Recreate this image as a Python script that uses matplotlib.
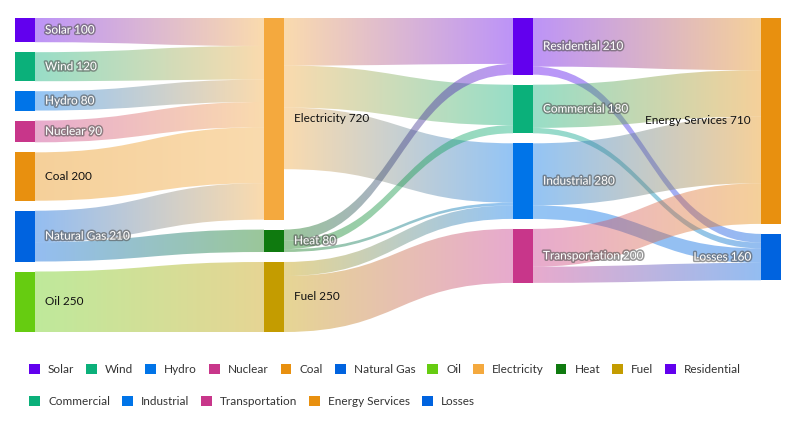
import numpy as np
import matplotlib.pyplot as plt
import matplotlib.patheffects as pe
from matplotlib.path import Path
from matplotlib.patches import PathPatch, Rectangle, Patch
from matplotlib.colors import to_rgb

# nodes of the energy flow
nodes = ["Solar", "Wind", "Hydro", "Nuclear", "Coal", "Natural Gas", "Oil",
         "Electricity", "Heat", "Fuel",
         "Residential", "Commercial", "Industrial", "Transportation",
         "Energy Services", "Losses"]
node_column = [0, 0, 0, 0, 0, 0, 0, 1, 1, 1, 2, 2, 2, 2, 3, 3]
node_colors = ["#6200EE", "#0BB07A", "#0074E8", "#C8368A", "#E8900F", "#0063DF",
               "#66CC11", "#F4A93E", "#0F7A0F", "#C49C00", "#6200EE", "#0BB07A",
               "#0074E8", "#C8368A", "#E8900F", "#0063DF"]

# links (source, target, value)
link_source = ["Solar", "Wind", "Hydro", "Nuclear", "Coal", "Natural Gas", "Natural Gas", "Oil",
               "Electricity", "Electricity", "Electricity", "Heat", "Heat", "Heat", "Fuel", "Fuel",
               "Residential", "Residential", "Commercial", "Commercial",
               "Industrial", "Industrial", "Transportation", "Transportation"]
link_target = ["Electricity", "Electricity", "Electricity", "Electricity", "Electricity", "Electricity",
               "Heat", "Fuel",
               "Residential", "Commercial", "Industrial", "Residential", "Commercial", "Industrial",
               "Industrial", "Transportation",
               "Energy Services", "Losses", "Energy Services", "Losses",
               "Energy Services", "Losses", "Energy Services", "Losses"]
link_value = [100, 120, 80, 90, 200, 130, 80, 250,
              170, 150, 220, 40, 30, 10, 50, 200,
              180, 30, 160, 20, 230, 50, 140, 60]

# layout (pixels)
col_x = [15, 264, 513, 761]
col_scale = [0.2419, 0.28, 0.27, 0.29]
node_w = 20
gap = 10
top = 18
link_alpha = 0.42

plt.rcParams['font.family'] = ['Lato', 'DejaVu Sans']

fig = plt.figure(figsize=(7.99, 4.29), dpi=100)
ax = fig.add_axes([0, 0, 1, 1])
ax.set_xlim(0, 799)
ax.set_ylim(429, 0)
ax.axis("off")

idx = {n: i for i, n in enumerate(nodes)}
inflow = [0] * len(nodes)
outflow = [0] * len(nodes)
for s, t, v in zip(link_source, link_target, link_value):
    outflow[idx[s]] += v
    inflow[idx[t]] += v
node_value = [max(a, b) for a, b in zip(inflow, outflow)]

# node positions
node_y, node_h = [], []
col_y = {}
for i, n in enumerate(nodes):
    c = node_column[i]
    y = col_y.get(c, top)
    h = node_value[i] * col_scale[c]
    node_y.append(y)
    node_h.append(h)
    col_y[c] = y + h + gap

# links
src_off = list(node_y)
tgt_off = list(node_y)
order = sorted(range(len(link_value)),
               key=lambda k: (idx[link_source[k]], idx[link_target[k]]))
link_geo = {}
for k in order:
    s, t = idx[link_source[k]], idx[link_target[k]]
    ws = link_value[k] * col_scale[node_column[s]]
    link_geo[k] = [src_off[s], src_off[s] + ws]
    src_off[s] += ws
order_t = sorted(range(len(link_value)),
                 key=lambda k: (idx[link_target[k]], idx[link_source[k]]))
for k in order_t:
    s, t = idx[link_source[k]], idx[link_target[k]]
    wt = link_value[k] * col_scale[node_column[t]]
    link_geo[k] += [tgt_off[t], tgt_off[t] + wt]
    tgt_off[t] += wt

for k in range(len(link_value)):
    s, t = idx[link_source[k]], idx[link_target[k]]
    x0 = col_x[node_column[s]] + node_w
    x1 = col_x[node_column[t]]
    xm = (x0 + x1) / 2
    ys0, ys1, yt0, yt1 = link_geo[k]
    verts = [(x0, ys0), (xm, ys0), (xm, yt0), (x1, yt0),
             (x1, yt1), (xm, yt1), (xm, ys1), (x0, ys1), (x0, ys0)]
    codes = [Path.MOVETO, Path.CURVE4, Path.CURVE4, Path.CURVE4,
             Path.LINETO, Path.CURVE4, Path.CURVE4, Path.CURVE4, Path.CLOSEPOLY]
    patch = PathPatch(Path(verts, codes), facecolor="none", edgecolor="none")
    ax.add_patch(patch)
    c0 = np.array(to_rgb(node_colors[s]))
    c1 = np.array(to_rgb(node_colors[t]))
    f = np.linspace(0, 1, 128)[:, None]
    grad = np.ones((1, 128, 4))
    grad[0, :, :3] = c0 * (1 - f) + c1 * f
    grad[0, :, 3] = link_alpha
    im = ax.imshow(grad, extent=(x0, x1, 429, 0), aspect="auto",
                   interpolation="bilinear", zorder=1)
    im.set_clip_path(patch)

ax.set_xlim(0, 799)
ax.set_ylim(429, 0)

# nodes and labels
for i, n in enumerate(nodes):
    c = node_column[i]
    ax.add_patch(Rectangle((col_x[c], node_y[i]), node_w, node_h[i],
                           facecolor=node_colors[i], edgecolor="none", zorder=3))
    r, g, b = to_rgb(node_colors[i])
    light = 0.299 * r + 0.587 * g + 0.114 * b > 0.53
    label = f"{n} {node_value[i]}"
    yc = node_y[i] + node_h[i] / 2
    if c == 3:
        x, ha = col_x[c] - 10, "right"
    else:
        x, ha = col_x[c] + node_w + 10, "left"
    if light:
        ax.text(x, yc, label, ha=ha, va="center", fontsize=8.5, color="#111111", zorder=4)
    else:
        ax.text(x, yc, label, ha=ha, va="center", fontsize=8.5, color="white", zorder=4,
                path_effects=[pe.withStroke(linewidth=2.2, foreground="#555555", alpha=0.6)])

# legend in two rows
rows = [nodes[:11], nodes[11:]]
row_y = [364, 396]
for names, yy in zip(rows, row_y):
    handles = [Patch(facecolor=node_colors[idx[n]], edgecolor="none") for n in names]
    fig.legend(handles, names, loc="upper left", bbox_to_anchor=(29 / 799, 1 - yy / 429),
               ncol=len(names), frameon=False, fontsize=8.5, handlelength=0.93,
               handleheight=0.93, handletextpad=0.68, columnspacing=1.0,
               borderpad=0, borderaxespad=0, labelcolor="#333333")

plt.savefig("out.png", dpi=100)
